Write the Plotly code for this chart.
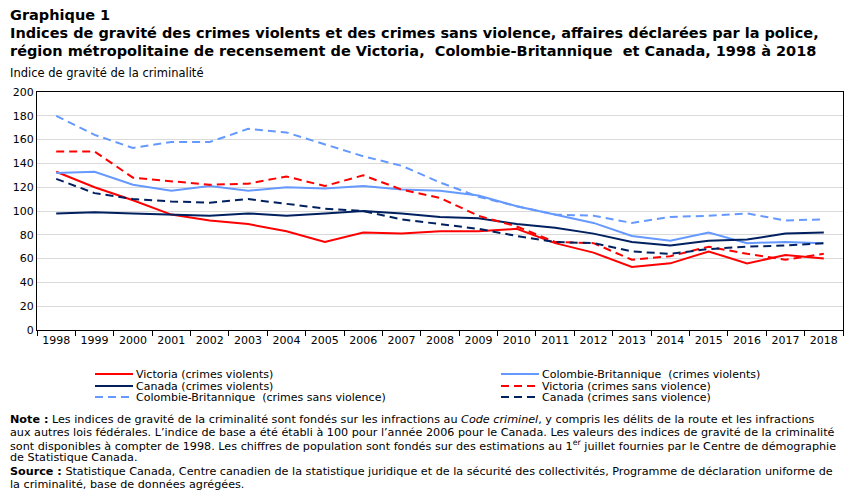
import plotly.graph_objects as go

years = [str(y) for y in range(1998, 2019)]

victoria_violent = [133, 120, 109, 97, 92, 89, 83, 74, 82, 81, 83, 83, 85, 73, 65, 53, 56, 66, 56, 63, 60]
bc_violent = [132, 133, 122, 117, 121, 117, 120, 119, 121, 118, 117, 113, 104, 97, 90, 79, 75, 82, 73, 74, 73]
canada_violent = [98, 99, 98, 97, 96, 98, 96, 98, 100, 98, 95, 94, 89, 86, 81, 74, 71, 75, 76, 81, 82]
victoria_nonviolent = [150, 150, 128, 125, 122, 123, 129, 121, 130, 118, 111, 96, 87, 74, 73, 59, 62, 70, 64, 59, 64]
bc_nonviolent = [180, 164, 153, 158, 158, 169, 166, 156, 146, 138, 124, 112, 104, 97, 96, 90, 95, 96, 98, 92, 93]
canada_nonviolent = [127, 115, 110, 108, 107, 110, 106, 102, 100, 93, 89, 85, 79, 74, 73, 66, 64, 68, 70, 71, 73]

names = [
    "Victoria (crimes violents)",
    "Colombie-Britannique  (crimes violents)",
    "Canada (crimes violents)",
    "Victoria (crimes sans violence)",
    "Colombie-Britannique  (crimes sans violence)",
    "Canada (crimes sans violence)",
]

RED = "#ff0000"
LBLUE = "#6699ff"
NAVY = "#002060"
DASH = "8px,5px"

series = [
    (victoria_violent, names[0], RED, "solid"),
    (bc_violent, names[1], LBLUE, "solid"),
    (canada_violent, names[2], NAVY, "solid"),
    (victoria_nonviolent, names[3], RED, DASH),
    (bc_nonviolent, names[4], LBLUE, DASH),
    (canada_nonviolent, names[5], NAVY, DASH),
]

W, H = 851, 491
L, R, T, B = 37, 8, 92, 161
PW, PH = W - L - R, H - T - B


def px_x(px):
    return (px - L) / PW


def px_y(py):
    return (H - B - py) / PH


fig = go.Figure()
for vals, nm, col, dash in series:
    fig.add_trace(go.Scatter(x=years, y=vals, name=nm, mode="lines",
                             line=dict(color=col, width=2, dash=dash),
                             showlegend=False))

TFONT = "DejaVu Sans, sans-serif"
annotations = []
shapes = []

# Title
title_lines = [
    ("<b>Graphique 1</b>", 15),
    ("<b>Indices de gravité des crimes violents et des crimes sans violence, affaires déclarées par la police,</b>", 33),
    ("<b>région métropolitaine de recensement de Victoria,  Colombie-Britannique  et Canada, 1998 à 2018</b>", 51),
]
for txt, y in title_lines:
    annotations.append(dict(text=txt, x=px_x(8), y=px_y(y), xref="paper", yref="paper",
                            xanchor="left", yanchor="middle", showarrow=False,
                            font=dict(family=TFONT, size=14.5, color="black")))

annotations.append(dict(text="Indice de gravité de la criminalité", x=px_x(8), y=px_y(73),
                        xref="paper", yref="paper", xanchor="left", yanchor="middle",
                        showarrow=False, font=dict(family=TFONT, size=11.5, color="black")))

# Manual legend (two columns)
legend_pos = [(95, 374), (501, 374), (95, 386), (501, 386), (95, 397), (501, 397)]
for (vals, nm, col, dash), (lx, ly) in zip(series, legend_pos):
    shapes.append(dict(type="line", xref="paper", yref="paper",
                       x0=px_x(lx), x1=px_x(lx + 38), y0=px_y(ly), y1=px_y(ly),
                       line=dict(color=col, width=2, dash=dash)))
    annotations.append(dict(text=nm, x=px_x(lx + 39), y=px_y(ly), xref="paper", yref="paper",
                            xanchor="left", yanchor="middle", showarrow=False,
                            font=dict(family=TFONT, size=11, color="black")))

notes = [
    ("<b>Note :</b> Les indices de gravité de la criminalité sont fondés sur les infractions au <i>Code criminel</i>, y compris les délits de la route et les infractions", 419),
    ("aux autres lois fédérales. L’indice de base a été établi à 100 pour l’année 2006 pour le Canada. Les valeurs des indices de gravité de la criminalité", 432),
    ("sont disponibles à compter de 1998. Les chiffres de population sont fondés sur des estimations au 1<sup>er</sup> juillet fournies par le Centre de démographie", 445),
    ("de Statistique Canada.", 458),
    ("<b>Source :</b> Statistique Canada, Centre canadien de la statistique juridique et de la sécurité des collectivités, Programme de déclaration uniforme de", 471),
    ("la criminalité, base de données agrégées.", 484),
]
for txt, y in notes:
    annotations.append(dict(text=txt, x=px_x(8), y=px_y(y), xref="paper", yref="paper",
                            xanchor="left", yanchor="middle", showarrow=False,
                            font=dict(family=TFONT, size=11.2, color="black")))

fig.update_layout(
    width=W, height=H,
    margin=dict(l=L, r=R, t=T, b=B, pad=0),
    paper_bgcolor="white", plot_bgcolor="white",
    annotations=annotations, shapes=shapes,
    showlegend=False,
    xaxis=dict(type="category", range=[-0.5, 20.5], tickson="boundaries", ticks="outside",
               ticklen=5, tickcolor="black", showgrid=False, showline=True,
               linecolor="black", linewidth=1, mirror=True,
               tickfont=dict(family="DejaVu Sans", size=11, color="black")),
    yaxis=dict(range=[0, 200], dtick=20, showgrid=True, gridcolor="#d9d9d9", gridwidth=1,
               zeroline=False, showline=True, linecolor="black", linewidth=1, mirror=True,
               ticks="", tickfont=dict(family="DejaVu Sans", size=11, color="black")),
)

fig.write_html("out.html")
